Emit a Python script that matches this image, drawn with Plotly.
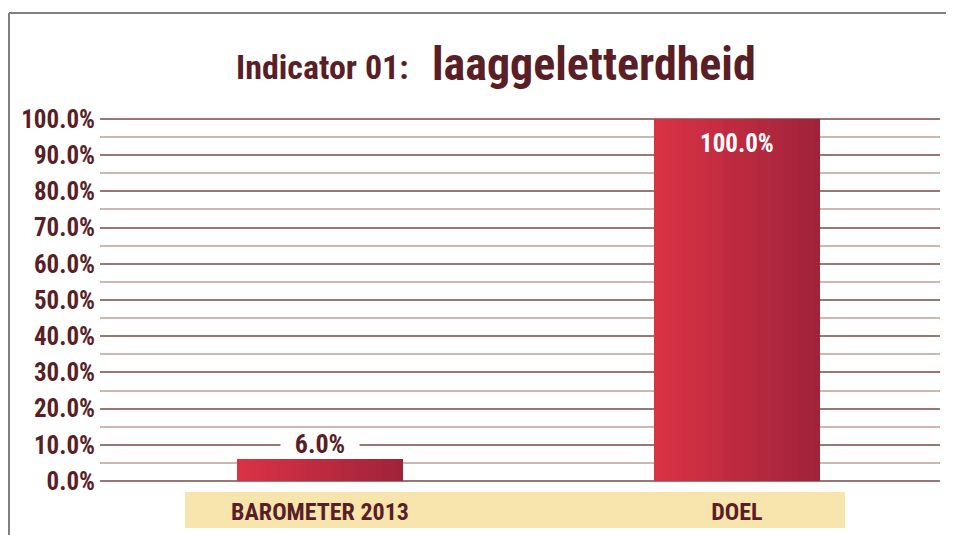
import plotly.graph_objects as go

# ---- data ----
categories = ["BAROMETER 2013", "DOEL"]
values = [6.0, 100.0]
y_ticks = [0, 10, 20, 30, 40, 50, 60, 70, 80, 90, 100]
title_small = "Indicator 01:"
title_big = "laaggeletterdheid"

# ---- styling ----
FONT = "Noto Sans ExtraCondensed, Roboto Condensed, DejaVu Sans Condensed, sans-serif"
MAROON = "#5a1f26"
OFF = 8                      # page body margin
W, H = 954 - OFF, 535 - OFF
ML, MR, MT, MB = 92, 14, 109, 52
PW, PH = W - ML - MR, H - MT - MB


def px_x(px):               # page pixel -> paper x
    return (px - OFF - ML) / PW


def px_y(py):               # page pixel -> paper y
    return (H - MB - (py - OFF)) / PH


def lerp_color(c1, c2, t):
    a = [int(c1[i:i + 2], 16) for i in (1, 3, 5)]
    b = [int(c2[i:i + 2], 16) for i in (1, 3, 5)]
    return "rgb(%d,%d,%d)" % tuple(round(a[j] + (b[j] - a[j]) * t) for j in range(3))


fig = go.Figure()

x_idx = list(range(len(categories)))
bar_w = 0.396
N = 24
for k in range(N):
    t = k / (N - 1)
    sw = bar_w / N
    fig.add_trace(go.Bar(
        x=x_idx, y=values,
        offset=-bar_w / 2 + k * sw,
        width=sw * (1.08 if k < N - 1 else 1.0),
        marker=dict(color=lerp_color("#da3245", "#a0233b", t), line=dict(width=0)),
        hoverinfo="skip", showlegend=False,
    ))

# value labels from data
annotations = []
for xi, v in zip(x_idx, values):
    if v < 50:
        annotations.append(dict(x=xi, y=v, xref="x", yref="y", text="%.1f%%" % v,
                                showarrow=False, yanchor="middle", yshift=15,
                                width=78, height=20, valign="middle",
                                bgcolor="white", borderpad=0,
                                font=dict(family=FONT, size=26, color=MAROON, weight="bold")))
    else:
        annotations.append(dict(x=xi, y=v, xref="x", yref="y", text="%.1f%%" % v,
                                showarrow=False, yanchor="top", yshift=-8,
                                font=dict(family=FONT, size=25, color="white", weight="bold")))

# title
annotations.append(dict(x=px_x(411), y=px_y(89), xref="paper", yref="paper", text=title_small,
                        showarrow=False, xanchor="right", yanchor="bottom",
                        font=dict(family=FONT, size=34, color=MAROON, weight="bold")))
annotations.append(dict(x=px_x(430), y=px_y(93), xref="paper", yref="paper", text=title_big,
                        showarrow=False, xanchor="left", yanchor="bottom",
                        font=dict(family=FONT, size=46, color=MAROON, weight="bold")))

shapes = [
    # tape band behind category labels
    dict(type="rect", xref="paper", yref="paper", x0=px_x(185), x1=px_x(845),
         y0=px_y(528), y1=px_y(492), fillcolor="#f8e4ad", line=dict(width=0), layer="below"),
    # frame
    dict(type="line", xref="paper", yref="paper", x0=px_x(9), x1=px_x(960),
         y0=px_y(13), y1=px_y(13), line=dict(color="#808080", width=2)),
    dict(type="line", xref="paper", yref="paper", x0=px_x(9), x1=px_x(9),
         y0=px_y(13), y1=px_y(540), line=dict(color="#808080", width=2)),
]

fig.update_layout(
    width=W, height=H,
    margin=dict(l=ML, r=MR, t=MT, b=MB, autoexpand=False),
    paper_bgcolor="white", plot_bgcolor="white",
    barmode="overlay", bargap=0,
    showlegend=False,
    annotations=annotations,
    shapes=shapes,
    xaxis=dict(
        range=[-0.5276, 1.487], automargin=False,
        tickvals=x_idx, ticktext=categories,
        tickfont=dict(family=FONT, size=24, color=MAROON, weight="bold"),
        showgrid=False, zeroline=False, showline=False, ticks="",
        ticklabelstandoff=12,
    ),
    yaxis=dict(
        range=[-0.5, 100.5], automargin=False,
        tickvals=y_ticks,
        ticktext=["%.1f%%" % v for v in y_ticks],
        tickfont=dict(family=FONT, size=25, color=MAROON, weight="bold"),
        showgrid=True, gridcolor="#9a7772", gridwidth=2,
        zeroline=True, zerolinecolor="#9a7772", zerolinewidth=2,
        minor=dict(dtick=5, tick0=0, showgrid=True, gridcolor="#cdb7b1", gridwidth=2),
        showline=False, ticks="", ticklabelstandoff=4,
    ),
)

fig.write_html("out.html")
